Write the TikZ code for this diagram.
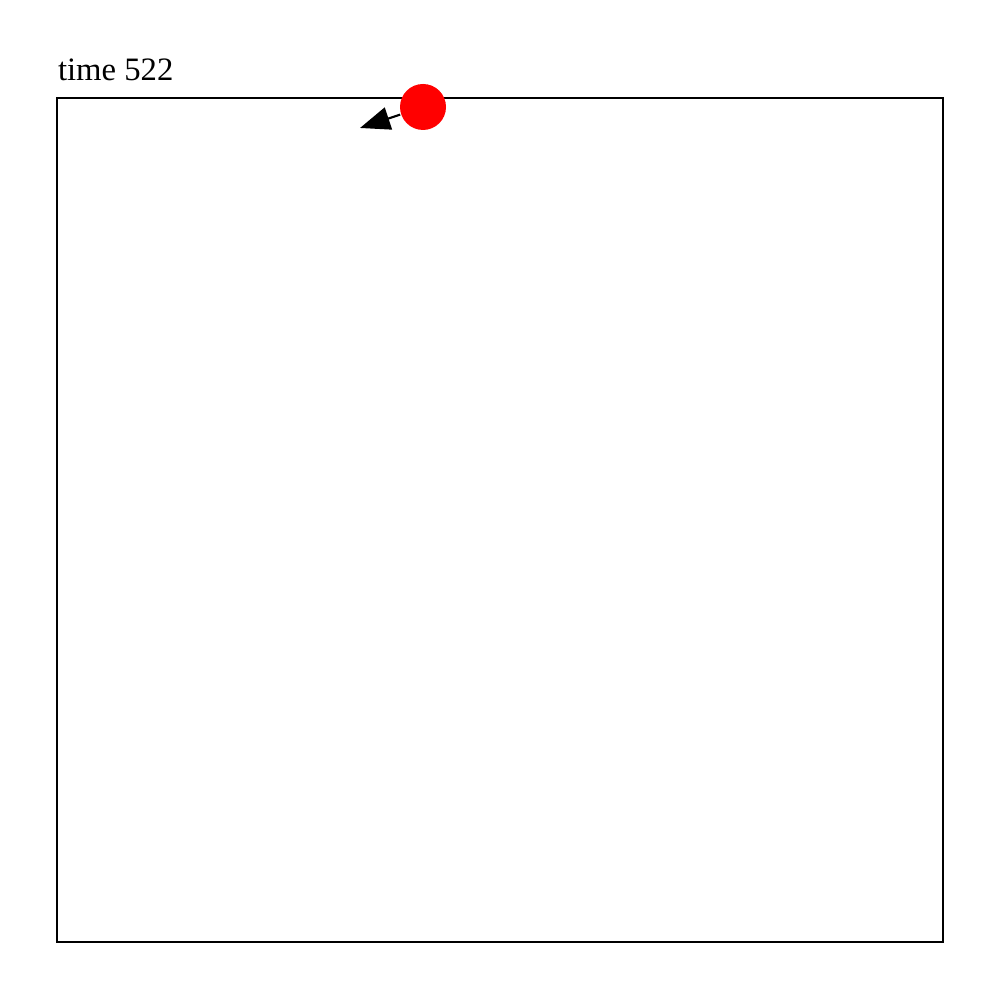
\documentclass[tikz,border=0pt]{standalone}
\usepackage{fontspec}
\setmainfont{Liberation Serif}
\usetikzlibrary{arrows.meta}
\begin{document}
\begin{tikzpicture}[>={Triangle[length=3mm,width=2.3mm]}, line width=0.6pt]
\useasboundingbox (0,0) rectangle (10,10);
\draw (0.57,0.58) rectangle (9.43,9.02);
\node[anchor=base west, inner sep=0pt, font=\fontsize{9.3}{11}\selectfont] (title) at (0.57,9.19) {time 522};

\node[circle, fill=red, minimum size=4.6mm, inner sep=0pt] (ball) at (4.23,8.93) {};
\coordinate (tip) at (3.60,8.72);
\draw[->] (ball) -- (tip);
\end{tikzpicture}
\end{document}
